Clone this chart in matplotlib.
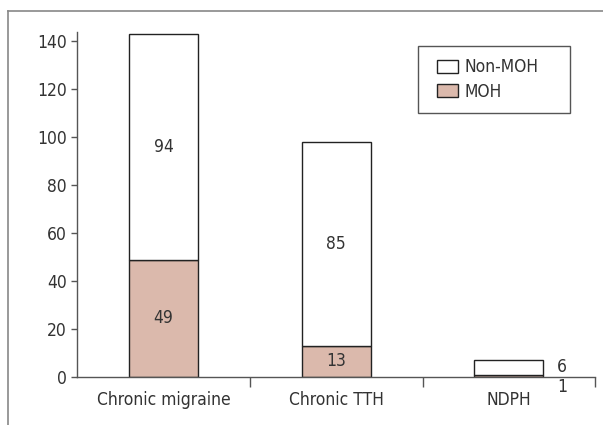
import numpy as np
import matplotlib.pyplot as plt
from matplotlib.lines import Line2D
from matplotlib.patches import Rectangle

categories = ['Chronic migraine', 'Chronic TTH', 'NDPH']
moh = [49, 13, 1]
non_moh = [94, 85, 6]

plt.rcParams['font.family'] = ['DejaVu Sans']
plt.rcParams['font.stretch'] = 'condensed'
text_color = '#333333'
axis_color = '#555555'
moh_color = '#dbb9ac'

fig = plt.figure(figsize=(6.03, 4.25), dpi=100)
ax = fig.add_axes([0.128, 0.113, 0.859, 0.812])

x = np.arange(len(categories))
width = 0.4
ax.bar(x, moh, width, color=moh_color, edgecolor='#222222', linewidth=1, label='MOH')
ax.bar(x, non_moh, width, bottom=moh, color='white', edgecolor='#222222', linewidth=1, label='Non-MOH')

# value labels
fs = 12.5
for i in range(2):
    ax.text(x[i], moh[i] / 2, str(moh[i]), ha='center', va='center', fontsize=fs, color=text_color)
    ax.text(x[i], moh[i] + non_moh[i] / 2, str(non_moh[i]), ha='center', va='center',
            fontsize=fs, color=text_color)
ax.text(x[2] + width / 2 + 0.08, moh[2] + non_moh[2] / 2, str(non_moh[2]), ha='left', va='center',
        fontsize=fs, color=text_color)
ax.text(x[2] + width / 2 + 0.08, -4, str(moh[2]), ha='left', va='center',
        fontsize=fs, color=text_color, clip_on=False)

ax.set_xlim(-0.5, 2.5)
ax.set_ylim(0, 144)
ax.set_yticks(np.arange(0, 141, 20))
ax.set_xticks(x)
ax.set_xticklabels(categories)
ax.set_xticks([0.5, 1.5, 2.5], minor=True)
ax.tick_params(axis='x', which='major', length=0, pad=10, labelsize=fs, labelcolor=text_color)
ax.tick_params(axis='x', which='minor', length=7, width=1, color=axis_color, direction='out')
ax.tick_params(axis='y', length=4, width=1, color=axis_color, labelsize=fs, labelcolor=text_color)

for side in ['top', 'right']:
    ax.spines[side].set_visible(False)
for side in ['left', 'bottom']:
    ax.spines[side].set_color(axis_color)
    ax.spines[side].set_linewidth(1)

# legend (frame drawn separately so it can be wider than its contents)
handles, labels = ax.get_legend_handles_labels()
leg = ax.legend(handles[::-1], labels[::-1], loc='upper left', bbox_to_anchor=(0.695, 0.923),
                fontsize=fs, frameon=False, borderpad=0, borderaxespad=0,
                handlelength=1.2, handleheight=0.85, handletextpad=0.35, labelspacing=0.35)
for t in leg.get_texts():
    t.set_color(text_color)
ax.add_patch(Rectangle((0.658, 0.765), 0.294, 0.194, transform=ax.transAxes, fill=False,
                       edgecolor=axis_color, linewidth=1, clip_on=False))

# outer frame lines (left and top)
fig.add_artist(Line2D([8 / 603, 8 / 603], [0, 1 - 11 / 425], color='#888888', linewidth=1.2))
fig.add_artist(Line2D([8 / 603, 1], [1 - 11 / 425, 1 - 11 / 425], color='#888888', linewidth=1.2))

fig.savefig('out.png', dpi=100)
